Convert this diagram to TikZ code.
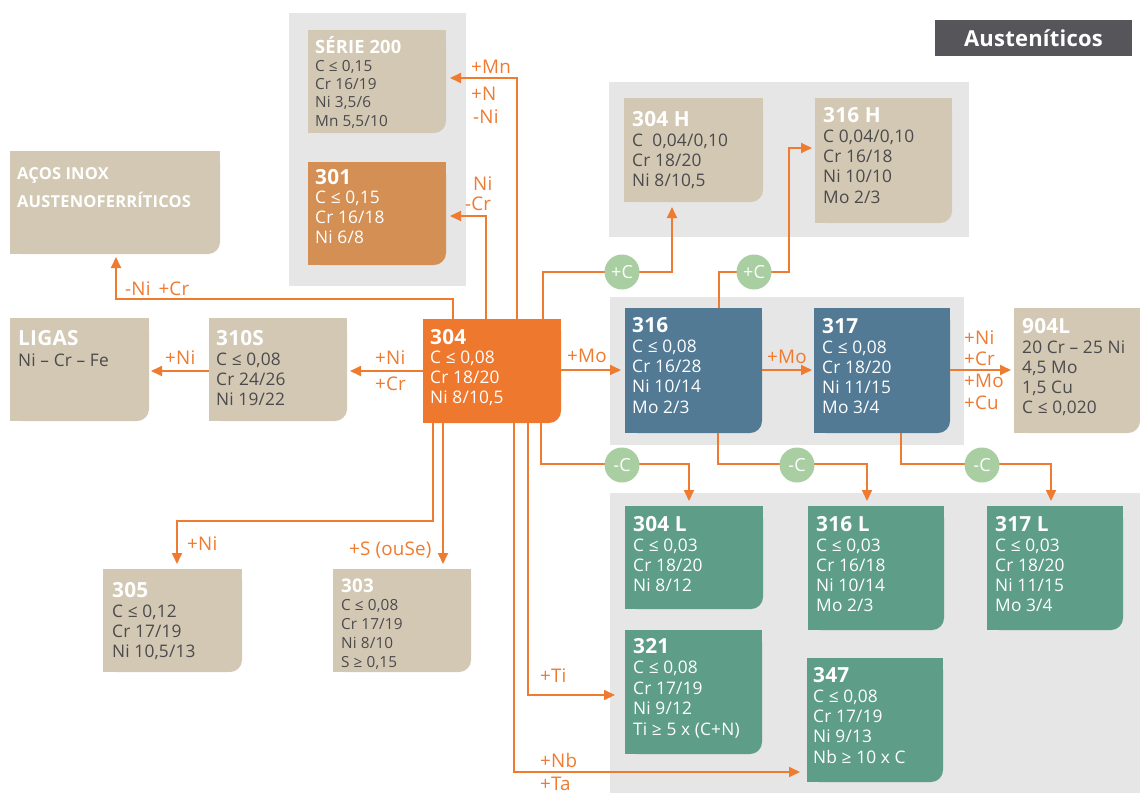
\documentclass[tikz,border=0pt]{standalone}
\usepackage{fontspec}
\setmainfont{Open Sans}[LetterSpace=1]
\usetikzlibrary{arrows.meta}
\definecolor{tanc}{HTML}{D3C8B3}
\definecolor{orangec}{HTML}{EE792E}
\definecolor{brownc}{HTML}{D48F55}
\definecolor{bluec}{HTML}{537A95}
\definecolor{greenc}{HTML}{5E9E89}
\definecolor{panelc}{HTML}{E6E6E6}
\definecolor{circc}{HTML}{A9CEA1}
\definecolor{arrc}{HTML}{EF7B30}
\definecolor{darkc}{HTML}{4B4A4C}
\definecolor{labc}{HTML}{56555A}
\tikzset{
  arr/.style={draw=arrc, line width=1.8pt, -{Triangle[length=11pt,width=10pt]}},
  lbl/.style={text=arrc, font=\fontsize{18.8}{18.8}\selectfont, inner sep=0, anchor=base west},
  ttl/.style={text=white, inner sep=0, anchor=base west},
  bdy/.style={inner sep=0, anchor=base west},
  shp/.style={inner sep=0, outer sep=0, anchor=north west},
  circ/.style={circle, fill=circc, minimum size=35pt, inner sep=0, text=white, font=\fontsize{18}{18}\selectfont},
}
% name, x, y, w, h, colour
\newcommand\cbox[6]{%
  \fill[#6,rounded corners=12pt] (#2,#3) rectangle ++(#4,#5);
  \fill[#6] (#2,#3) rectangle ++(#4-12,#5);
  \fill[#6] (#2,#3) rectangle ++(#4,#5-12);
  \node[shp, minimum width=#4pt, minimum height=#5pt] (#1) at (#2,#3) {};
}
% name, x, ytitle, spacing, titlesize, bodysize, bodycolour, title, lines
\newcommand\btext[9]{%
  \node[ttl, font=\fontsize{#5}{#5}\selectfont\bfseries] (#1t) at (#2,#3) {#8};
  \foreach \bl [count=\i] in {#9} {%
    \node[bdy, font=\fontsize{#6}{#6}\selectfont, text=#7] (#1l\i) at (#2,#3+#4*\i) {\bl};
  }%
}
\begin{document}
\begin{tikzpicture}[x=1pt,y=-1pt]
\useasboundingbox (0,0) rectangle (1140,793);
\fill[white] (0,0) rectangle (1140,793);
% panels
\fill[panelc] (289,13) rectangle (466,286);
\fill[panelc] (609,82) rectangle (969,237);
\fill[panelc] (610,297) rectangle (964,445);
\fill[panelc] (610,493) rectangle (1140,793);
% title label
\node[shp, fill=labc, text=white, font=\fontsize{22}{22}\selectfont\bfseries, minimum width=197pt, minimum height=36pt] (aust) at (935,20) {Austeníticos};
% boxes
\cbox{bS200}{308}{30}{138}{103}{tanc}
\cbox{b301}{308}{162}{138}{103}{brownc}
\cbox{bAcos}{10}{151}{210}{103}{tanc}
\cbox{b304}{423}{319}{138}{104}{orangec}
\cbox{b310S}{209}{318}{138}{103}{tanc}
\cbox{bLigas}{10}{318}{139}{103}{tanc}
\cbox{b304H}{624}{98}{139}{104}{tanc}
\cbox{b316H}{815}{98}{137}{125}{tanc}
\cbox{b316}{625}{308}{137}{125}{bluec}
\cbox{b317}{814}{308}{136}{125}{bluec}
\cbox{b904L}{1014}{308}{126}{125}{tanc}
\cbox{b305}{103}{569}{139}{103}{tanc}
\cbox{b303}{333}{569}{138}{103}{tanc}
\cbox{b304L}{625}{506}{138}{103}{greenc}
\cbox{b316L}{808}{506}{136}{124}{greenc}
\cbox{b317L}{987}{506}{136}{124}{greenc}
\cbox{b321}{625}{630}{137}{124}{greenc}
\cbox{b347}{807}{658}{136}{124}{greenc}
% texts
\btext{S200}{315}{53}{18.3}{18.3}{15.3}{darkc}{SÉRIE 200}{{C ≤ 0,15},{Cr 16/19},{Ni 3,5/6},{Mn 5,5/10}}
\btext{T301}{315}{184}{19.7}{20.8}{17.3}{white}{301}{{C ≤ 0,15},{Cr 16/18},{Ni 6/8}}
\node[ttl, font=\fontsize{16.5}{16.5}\selectfont\bfseries] (acos1) at (17,179) {AÇOS INOX};
\node[ttl, font=\fontsize{16.5}{16.5}\selectfont\bfseries] (acos2) at (17,207) {AUSTENOFERRÍTICOS};
\btext{T304}{430}{344}{19.7}{20.8}{17.3}{white}{304}{{C ≤ 0,08},{Cr 18/20},{Ni 8/10,5}}
\btext{T310S}{216}{345}{20.3}{20.8}{17.3}{darkc}{310S}{{C ≤ 0,08},{Cr 24/26},{Ni 19/22}}
\btext{TLigas}{18}{345}{21}{20.8}{17.3}{darkc}{LIGAS}{{Ni – Cr – Fe}}
\btext{T304H}{632}{126}{20.3}{20.8}{17.3}{darkc}{304 H}{{C\ \ 0,04/0,10},{Cr 18/20},{Ni 8/10,5}}
\btext{T316H}{823}{122}{20.3}{20.8}{17.3}{darkc}{316 H}{{C 0,04/0,10},{Cr 16/18},{Ni 10/10},{Mo 2/3}}
\btext{T316}{632}{332}{20.3}{20.8}{17.3}{white}{316}{{C ≤ 0,08},{Cr 16/28},{Ni 10/14},{Mo 2/3}}
\btext{T317}{822}{333}{20}{20.8}{17.3}{white}{317}{{C ≤ 0,08},{Cr 18/20},{Ni 11/15},{Mo 3/4}}
\btext{T904L}{1022}{333}{20}{20.8}{17.3}{darkc}{904L}{{20 Cr – 25 Ni},{4,5 Mo},{1,5 Cu},{C ≤ 0,020}}
\btext{T305}{112}{597}{20.3}{20.8}{17.3}{darkc}{305}{{C ≤ 0,12},{Cr 17/19},{Ni 10,5/13}}
\btext{T303}{341}{592}{18.75}{18.8}{15.3}{darkc}{303}{{C ≤ 0,08},{Cr 17/19},{Ni 8/10},{S ≥ 0,15}}
\btext{T304L}{633}{531}{20}{20.8}{17.3}{white}{304 L}{{C ≤ 0,03},{Cr 18/20},{Ni 8/12}}
\btext{T316L}{816}{531}{20}{20.8}{17.3}{white}{316 L}{{C ≤ 0,03},{Cr 16/18},{Ni 10/14},{Mo 2/3}}
\btext{T317L}{995}{531}{20}{20.8}{17.3}{white}{317 L}{{C ≤ 0,03},{Cr 18/20},{Ni 11/15},{Mo 3/4}}
\btext{T321}{633}{653}{20.5}{20.8}{17.3}{white}{321}{{C ≤ 0,08},{Cr 17/19},{Ni 9/12},{Ti ≥ 5 x (C+N)}}
\btext{T347}{813}{682}{20.3}{20.8}{17.3}{white}{347}{{C ≤ 0,08},{Cr 17/19},{Ni 9/13},{Nb ≥ 10 x C}}
% connectors
\draw[arr, shorten >=4pt] (517,0 |- b304.north) |- (bS200.east |- 0,78);
\draw[arr, shorten >=4pt] (486,0 |- b304.north) |- (b301.east |- 0,216);
\draw[arr, shorten >=3pt] (453,0 |- b304.north) -- (453,299) -| (116,0 |- bAcos.south);
\draw[arr, shorten >=5pt] (543,0 |- b304.north) -- (543,272) -| (672,0 |- b304H.south);
\draw[arr, shorten >=3pt] (719,0 |- b316.north) -- (719,272) -| (789,148) -- (b316H.west |- 0,148);
\draw[arr, shorten >=4pt] (b304.east |- 0,370) -- (b316.west |- 0,370);
\draw[arr, shorten >=2pt] (b316.east |- 0,370) -- (b317.west |- 0,370);
\draw[arr, shorten >=3pt] (b317.east |- 0,370) -- (b904L.west |- 0,370);
\draw[arr, shorten >=3pt] (b304.west |- 0,371) -- (b310S.east |- 0,371);
\draw[arr, shorten >=2pt] (b310S.west |- 0,371) -- (bLigas.east |- 0,371);
\draw[arr, shorten >=5pt] (541,0 |- b304.south) -- (541,464) -| (689,0 |- b304L.north);
\draw[arr, shorten >=5pt] (718,0 |- b316.south) -- (718,464) -| (867,0 |- b316L.north);
\draw[arr, shorten >=5pt] (901,0 |- b317.south) -- (901,464) -| (1051,0 |- b317L.north);
\draw[arr, shorten >=5pt] (433,0 |- b304.south) -- (433,521) -| (177,0 |- b305.north);
\draw[arr, shorten >=5pt] (443,0 |- b304.south) -- (443,0 |- b303.north);
\draw[arr, shorten >=10pt] (528,0 |- b304.south) |- (b321.west |- 0,695);
\draw[arr, shorten >=7pt] (514,0 |- b304.south) |- (b347.west |- 0,772);
% circles
\node[circ] (cC1) at (622,272) {+C};
\node[circ] (cC2) at (754,272) {+C};
\node[circ] (cD1) at (622,465) {-C};
\node[circ] (cD2) at (797,465) {-C};
\node[circ] (cD3) at (982,465) {-C};
% labels
\node[lbl] (lMn) at (471,73) {+Mn};
\node[lbl] (lN) at (471,100) {+N};
\node[lbl] (lNi1) at (473,123) {-Ni};
\node[lbl] (lNi2) at (473,190) {Ni};
\node[lbl] (lCr1) at (465,210) {-Cr};
\node[lbl] (lNiCr) at (125,295) {-Ni\hspace{8pt}+Cr};
\node[lbl] (lMo1) at (567,362) {+Mo};
\node[lbl] (lMo2) at (767,363) {+Mo};
\node[lbl] (lNi3) at (964,344) {+Ni};
\node[lbl] (lCr3) at (964,365) {+Cr};
\node[lbl] (lMo3) at (964,387) {+Mo};
\node[lbl] (lCu) at (964,409) {+Cu};
\node[lbl] (lNi4) at (375,364) {+Ni};
\node[lbl] (lCr4) at (375,390) {+Cr};
\node[lbl] (lNi5) at (165,364) {+Ni};
\node[lbl] (lNi6) at (187,550) {+Ni};
\node[lbl] (lS) at (349,555) {+S (ouSe)};
\node[lbl] (lTi) at (540,682) {+Ti};
\node[lbl] (lNb) at (540,767) {+Nb};
\node[lbl] (lTa) at (540,790) {+Ta};
\end{tikzpicture}
\end{document}
